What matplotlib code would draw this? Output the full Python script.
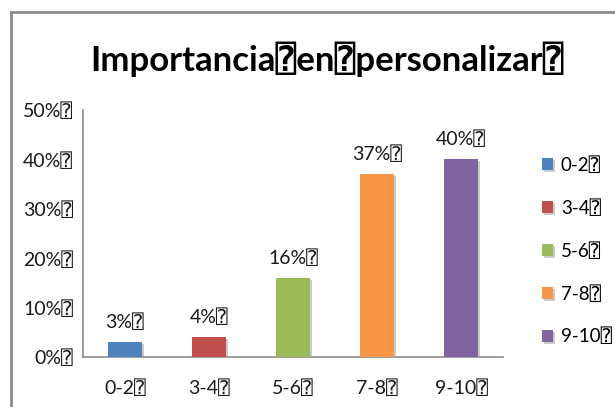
import matplotlib
matplotlib.use("Agg")
import matplotlib.pyplot as plt
from matplotlib.lines import Line2D
import matplotlib.patheffects as pe

plt.rcParams['font.family'] = ['Lato', 'DejaVu Sans Mono', 'DejaVu Sans']

# Datos
box = "\u2370"
categorias = ["0-2", "3-4", "5-6", "7-8", "9-10"]
porcentajes = [3, 4, 16, 37, 40]
colores = ["#4f81bd", "#c0504d", "#9bbb59", "#f79646", "#8064a2"]
titulo = "Importancia" + box + "en" + box + "personalizar" + box
yticks = [0, 10, 20, 30, 40, 50]

fig = plt.figure(figsize=(6.15, 4.07), dpi=100)
ax = fig.add_axes([83 / 615, 1 - 357 / 407, 420 / 615, 247 / 407])

x = list(range(len(categorias)))
sombra = [pe.SimplePatchShadow(offset=(1.5, -1.5), shadow_rgbFace="#999999", alpha=0.5), pe.Normal()]
for i, (cat, val, col) in enumerate(zip(categorias, porcentajes, colores)):
    b = ax.bar(i, val, width=0.41, color=col, label=cat + box, zorder=3)
    b[0].set_path_effects(sombra)
    ax.annotate(f"{val}%" + box, (i, val), xytext=(0, 8), textcoords="offset points",
                ha="center", va="bottom", fontsize=14, color="#1a1a1a")

ax.set_xlim(-0.5, len(categorias) - 0.5)
ax.set_ylim(0, 50)
ax.set_yticks(yticks)
ax.set_yticklabels([f"{v}%" + box for v in yticks], fontsize=14, color="#1a1a1a")
ax.set_xticks(x)
ax.set_xticklabels([c + box for c in categorias], fontsize=14, color="#1a1a1a")
ax.tick_params(axis="both", length=0)
ax.tick_params(axis="x", pad=16)
ax.tick_params(axis="y", pad=7)
for s in ["top", "right"]:
    ax.spines[s].set_visible(False)
for s in ["left", "bottom"]:
    ax.spines[s].set_color("#8c8c8c")
    ax.spines[s].set_linewidth(1.2)

fig.text(327 / 615, 1 - 59 / 407, titulo, ha="center", va="center",
         fontsize=25, fontweight="bold", color="black")

leg = ax.legend(loc="upper left", bbox_to_anchor=(542 / 615, 1 - 156 / 407),
                bbox_transform=fig.transFigure, frameon=False, fontsize=13.5,
                handlelength=0.6, handleheight=0.6, handletextpad=0.4,
                labelspacing=1.35, borderpad=0, borderaxespad=0)

# marco exterior
fig.add_artist(Line2D([11 / 615, 11 / 615], [0, 1 - 12 / 407], color="#8c8c8c", lw=2,
                      transform=fig.transFigure))
fig.add_artist(Line2D([11 / 615, 1], [1 - 12 / 407, 1 - 12 / 407], color="#8c8c8c", lw=2,
                      transform=fig.transFigure))

fig.savefig("out.png", dpi=100)
